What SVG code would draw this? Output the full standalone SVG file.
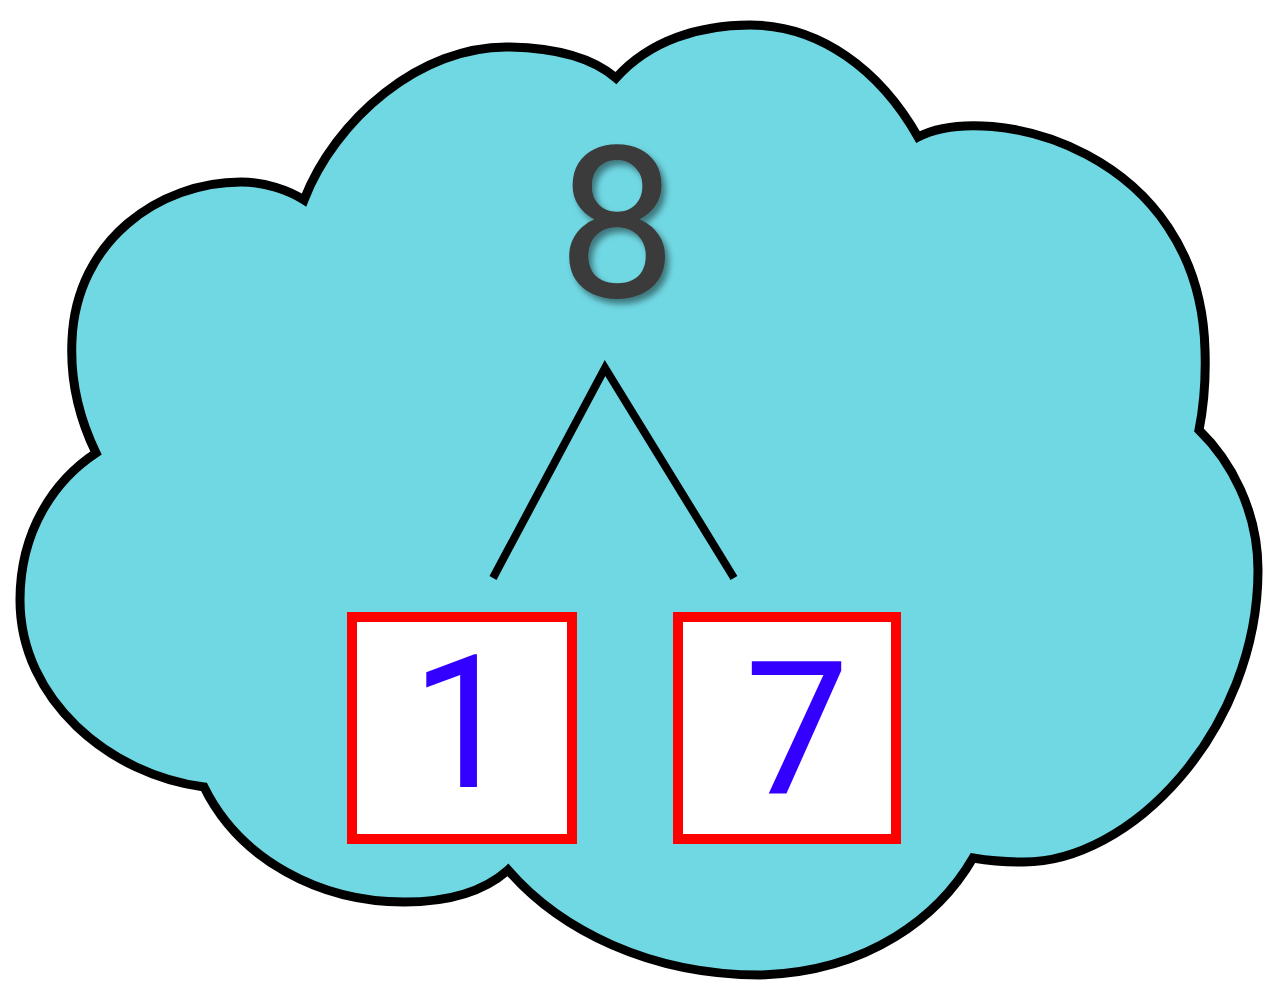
<svg xmlns="http://www.w3.org/2000/svg" width="1281" height="981" viewBox="0 0 1281 981">
  <style>
    .cloud { fill: #70d8e3; stroke: #000; stroke-width: 9; stroke-linejoin: miter; }
    .link { fill: none; stroke: #000; stroke-width: 8; stroke-linejoin: miter; }
    .box { fill: #fff; stroke: #ff0000; stroke-width: 10; }
    text { font-family: Roboto, 'Noto Sans', 'Open Sans', sans-serif; text-anchor: middle; }
    .num { fill: #3300ff; font-size: 186px; }
    .top { fill: #3a3a3a; font-size: 212px; }
  </style>
  <defs>
    <filter id="shadow" x="-20%" y="-20%" width="150%" height="150%">
      <feDropShadow dx="4" dy="5" stdDeviation="3" flood-color="#000" flood-opacity="0.45"/>
    </filter>
  </defs>
  <rect width="1281" height="981" fill="#fff"/>
  <g id="cloud">
    <path class="cloud" d="M304,200 C335,120 420,45 510,47 C560,48 595,60 616,78
      C650,40 700,25 750,25 C820,25 880,70 918,137
      C990,100 1200,150 1205,350 C1206,380 1203,410 1199,430
      C1230,460 1258,510 1258,570 C1258,730 1130,865 1020,862 C1000,862 985,860 973,858
      C940,915 870,972 760,975 C650,975 560,930 508,870
      C480,895 440,902 404,902 C320,902 240,860 204,787
      C110,775 20,700 20,600 C20,530 55,480 96,453
      C80,420 70,380 72,340 C76,240 160,182 241,182 C265,182 288,190 304,200 Z"/>
  </g>
  <g id="node-8">
    <text class="top" x="617" y="297" filter="url(#shadow)">8</text>
  </g>
  <g id="connectors">
    <polyline class="link" points="493,578 605,368 734,578"/>
  </g>
  <g id="node-1">
    <rect class="box" x="352" y="617" width="220" height="222"/>
    <text class="num" x="463" y="787">1</text>
  </g>
  <g id="node-7">
    <rect class="box" x="678" y="617" width="218" height="222"/>
    <text class="num" x="797" y="793">7</text>
  </g>
</svg>
